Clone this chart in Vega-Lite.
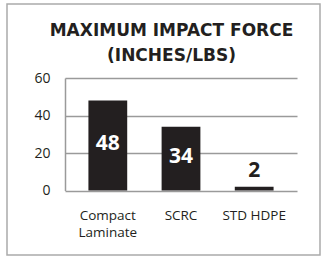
{
  "$schema": "https://vega.github.io/schema/vega-lite/v6.json",
  "width": 313,
  "height": 251,
  "autosize": {"type": "none"},
  "padding": {"left": 7, "top": 4, "right": 6, "bottom": 1},
  "background": "white",
  "config": {"view": {"stroke": "#ababab", "strokeWidth": 1.5}},
  "title": {
    "text": ["MAXIMUM IMPACT FORCE", "(INCHES/LBS)"],
    "font": "DejaVu Sans",
    "fontSize": 17,
    "fontWeight": "bold",
    "color": "#231f20",
    "lineHeight": 25,
    "anchor": "middle",
    "frame": "group",
    "dx": 8,
    "offset": -61
  },
  "data": {
    "values": [
      {"material": "Compact Laminate", "value": 48},
      {"material": "SCRC", "value": 34},
      {"material": "STD HDPE", "value": 2}
    ]
  },
  "encoding": {
    "x": {
      "field": "material",
      "type": "nominal",
      "sort": null,
      "scale": {"range": [58, 290], "paddingInner": 0.47, "paddingOuter": 0.32},
      "axis": {
        "title": null,
        "domain": false,
        "ticks": false,
        "tickSize": 0,
        "offset": -64.5,
        "labelAngle": 0,
        "labelPadding": 18,
        "labelFont": "Open Sans",
        "labelFontSize": 13.5,
        "labelColor": "#231f20",
        "labelLineHeight": 17,
        "labelExpr": "datum.label == 'Compact Laminate' ? ['Compact', 'Laminate'] : datum.label"
      }
    }
  },
  "layer": [
    {
      "mark": {"type": "bar", "color": "#231f20"},
      "encoding": {
        "y": {
          "field": "value",
          "type": "quantitative",
          "scale": {"domain": [0, 60], "range": [186.5, 74]},
          "axis": {
            "title": null,
            "values": [0, 20, 40, 60],
            "offset": -58,
            "grid": true,
            "gridColor": "#9a9a9a",
            "gridWidth": 1.5,
            "domainColor": "#9a9a9a",
            "domainWidth": 1.5,
            "ticks": false,
            "tickSize": 0,
            "labelPadding": 15,
            "labelFont": "Open Sans",
            "labelFontSize": 14,
            "labelColor": "#231f20"
          }
        }
      }
    },
    {
      "transform": [{"filter": "datum.value < 10"}],
      "mark": {"type": "text", "font": "Open Sans", "fontWeight": "bold", "fontSize": 21, "color": "#231f20", "baseline": "alphabetic", "dy": -9.5},
      "encoding": {
        "y": {"field": "value", "type": "quantitative", "scale": {"domain": [0, 60], "range": [186.5, 74]}, "axis": null},
        "text": {"field": "value", "type": "quantitative"}
      }
    },
    {
      "transform": [{"filter": "datum.value >= 10"}],
      "mark": {"type": "text", "font": "Open Sans", "fontWeight": "bold", "fontSize": 21, "color": "white", "baseline": "middle", "dy": -2},
      "encoding": {
        "y": {"field": "value", "type": "quantitative", "scale": {"domain": [0, 120], "range": [186.5, 74]}, "axis": null},
        "text": {"field": "value", "type": "quantitative"}
      }
    }
  ],
  "resolve": {"scale": {"y": "independent"}}
}
